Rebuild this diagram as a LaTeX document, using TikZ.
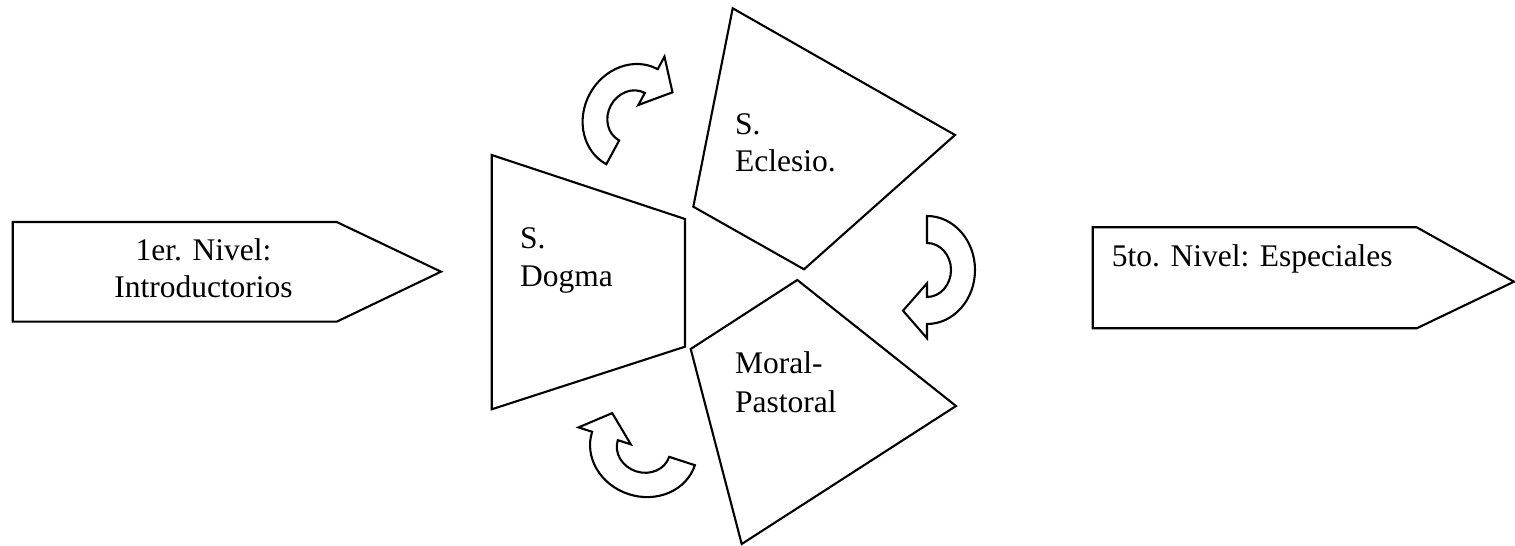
\documentclass[tikz,border=0pt]{standalone}
\usepackage{fontspec}
\setmainfont{Liberation Serif}
\begin{document}
\begin{tikzpicture}[x=1pt,y=1pt,
  shapeline/.style={draw=black,line width=2.1pt,fill=white,line join=miter},
  lbl/.style={inner sep=0pt,font=\fontsize{31.5}{37.5}\selectfont},
  curvedarrow/.pic={
    \draw[shapeline] (0,54) arc[start angle=90,end angle=-90,x radius=48pt,y radius=54pt]
      -- (0,-68.3) -- (-24,-40.7) -- (0,-13.3) -- (0,-27)
      arc[start angle=-90,end angle=90,x radius=24pt,y radius=27pt] -- cycle;
  }]
\useasboundingbox (0,0) rectangle (1515,546);
\fill[white] (0,0) rectangle (1515,546);

% left arrow box
\draw[shapeline] (12.7,324) -- (336.7,324) -- (441,274.3) -- (336.7,224.3) -- (12.7,224.3) -- cycle;
\node[lbl,anchor=base] (introA) at (203.5,285) {1er. Nivel:};
\node[lbl,anchor=base] (introB) at (203.5,248) {Introductorios};

% right arrow box
\draw[shapeline] (1092.7,318.7) -- (1416.7,318.7) -- (1514,264.3) -- (1416.7,217.7) -- (1092.7,217.7) -- cycle;
\node[lbl,anchor=base west] (espec) at (1111.7,279.3) {5to. Nivel: Especiales};

% Dogma
\draw[shapeline] (491.7,391) -- (685,327) -- (685,199.3) -- (491.7,136.7) -- cycle;
\node[lbl,anchor=base west] (dogA) at (520,297) {S.};
\node[lbl,anchor=base west] (dogB) at (520,259.3) {Dogma};

% Eclesio
\draw[shapeline] (732.7,537.7) -- (955,411) -- (804,276.7) -- (693.3,339.3) -- cycle;
\node[lbl,anchor=base west] (eclA) at (735,411) {S.};
\node[lbl,anchor=base west] (eclB) at (735,374.3) {Eclesio.};

% Moral-Pastoral
\draw[shapeline] (797.3,266) -- (956,140) -- (741.7,2) -- (690.7,197) -- cycle;
\node[lbl,anchor=base west] (morA) at (735,172.7) {Moral-};
\node[lbl,anchor=base west] (morB) at (735,133.3) {Pastoral};

% curved arrows
\pic[rotate=151.6] (arrOne) at (632,429.3) {curvedarrow};
\pic (arrTwo) at (927,276) {curvedarrow};
\pic[rotate=-108] (arrThree) at (643.5,97.5) {curvedarrow};
\end{tikzpicture}
\end{document}
